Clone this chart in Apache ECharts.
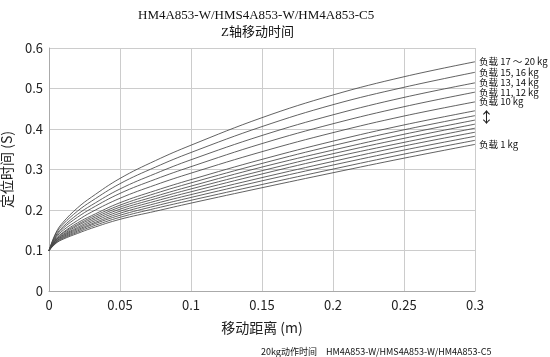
<!DOCTYPE html>
<html><head><meta charset="utf-8">
<script src="https://cdn.jsdelivr.net/npm/echarts@6/dist/echarts.min.js"></script>
<style>html,body{margin:0;padding:0;background:#fff}#c{width:550px;height:357px}</style>
</head><body><div id="c"></div>
<script>
var xs = [0, 0.005, 0.01, 0.02, 0.03, 0.05, 0.075, 0.1, 0.15, 0.2, 0.25, 0.3];
var load17_20 = [0.1, 0.145, 0.170, 0.205, 0.232, 0.278, 0.322, 0.360, 0.428, 0.484, 0.529, 0.566];
var load15_16 = [0.1, 0.142, 0.165, 0.197, 0.222, 0.265, 0.306, 0.342, 0.406, 0.460, 0.503, 0.540];
var load13_14 = [0.1, 0.138, 0.159, 0.189, 0.212, 0.252, 0.290, 0.324, 0.384, 0.435, 0.478, 0.514];
var load11_12 = [0.1, 0.135, 0.155, 0.182, 0.204, 0.241, 0.276, 0.307, 0.364, 0.413, 0.455, 0.491];
var load10 = [0.1, 0.132, 0.150, 0.174, 0.195, 0.229, 0.262, 0.291, 0.344, 0.391, 0.432, 0.467];
var load9 = [0.1, 0.129, 0.145, 0.168, 0.186, 0.218, 0.248, 0.275, 0.325, 0.370, 0.410, 0.445];
var load8 = [0.1, 0.127, 0.143, 0.164, 0.182, 0.212, 0.241, 0.267, 0.315, 0.359, 0.398, 0.433];
var load7 = [0.1, 0.126, 0.140, 0.161, 0.178, 0.207, 0.234, 0.259, 0.306, 0.348, 0.387, 0.422];
var load6 = [0.1, 0.125, 0.138, 0.157, 0.174, 0.202, 0.228, 0.252, 0.297, 0.339, 0.377, 0.412];
var load5 = [0.1, 0.123, 0.136, 0.154, 0.170, 0.197, 0.222, 0.245, 0.289, 0.330, 0.367, 0.402];
var load4 = [0.1, 0.122, 0.134, 0.151, 0.166, 0.192, 0.216, 0.238, 0.280, 0.320, 0.358, 0.392];
var load3 = [0.1, 0.121, 0.132, 0.148, 0.163, 0.187, 0.210, 0.231, 0.272, 0.311, 0.348, 0.382];
var load2 = [0.1, 0.119, 0.130, 0.145, 0.159, 0.182, 0.204, 0.224, 0.263, 0.301, 0.338, 0.372];
var load1 = [0.1, 0.118, 0.128, 0.142, 0.155, 0.177, 0.197, 0.217, 0.255, 0.292, 0.328, 0.362];

var seriesList = [
  {name: '负载 17 ～ 20 kg', data: load17_20, label: true},
  {name: '负载 15, 16 kg', data: load15_16, label: true},
  {name: '负载 13, 14 kg', data: load13_14, label: true},
  {name: '负载 11, 12 kg', data: load11_12, label: true},
  {name: '负载 10 kg', data: load10, label: true},
  {name: '负载 9 kg', data: load9, label: false},
  {name: '负载 8 kg', data: load8, label: false},
  {name: '负载 7 kg', data: load7, label: false},
  {name: '负载 6 kg', data: load6, label: false},
  {name: '负载 5 kg', data: load5, label: false},
  {name: '负载 4 kg', data: load4, label: false},
  {name: '负载 3 kg', data: load3, label: false},
  {name: '负载 2 kg', data: load2, label: false},
  {name: '负载 1 kg', data: load1, label: true}
];

var font = '"Noto Sans CJK JP", "Noto Sans CJK SC", sans-serif';
var serif = '"Liberation Serif", "Noto Sans CJK SC", serif';
var chart = echarts.init(document.getElementById('c'), null, {renderer: 'canvas'});
chart.setOption({
  animation: false,
  backgroundColor: '#fff',
  title: [{
    text: 'HM4A853-W/HMS4A853-W/HM4A853-C5',
    left: 133, top: 4,
    textStyle: {fontSize: 13, fontWeight: 'normal', color: '#111', fontFamily: serif}
  }, {
    text: 'Z轴移动时间',
    left: 216, top: 21,
    textStyle: {fontSize: 13, fontWeight: 'normal', color: '#111', fontFamily: serif}
  }, {
    text: '20kg动作时间　HM4A853-W/HMS4A853-W/HM4A853-C5',
    left: 256, top: 342,
    textStyle: {fontSize: 9, fontWeight: 'normal', color: '#111', fontFamily: font}
  }],
  grid: {left: 49, right: 75, top: 48, bottom: 66, containLabel: false, outerBoundsMode: 'none'},
  xAxis: {
    type: 'value', min: 0, max: 0.3, interval: 0.05,
    name: '移动距离 (m)', nameLocation: 'middle', nameGap: 30,
    nameTextStyle: {fontSize: 14, color: '#222', fontFamily: font},
    axisLine: {lineStyle: {color: '#aaa'}},
    axisTick: {show: false},
    splitLine: {show: true, lineStyle: {color: '#ccc'}},
    axisLabel: {fontSize: 13, color: '#222', margin: 8, fontFamily: font}
  },
  yAxis: {
    type: 'value', min: 0, max: 0.6, interval: 0.1,
    name: '定位时间 (S)', nameLocation: 'middle', nameGap: 33,
    nameTextStyle: {fontSize: 14, color: '#222', fontFamily: font},
    axisLine: {show: true, lineStyle: {color: '#aaa'}},
    axisTick: {show: false},
    splitLine: {show: true, lineStyle: {color: '#ccc'}},
    axisLabel: {fontSize: 13, color: '#222', margin: 6, fontFamily: font}
  },
  graphic: [{
    type: 'text', left: 479, top: 110,
    style: {text: '↕', fontSize: 15, fill: '#222', fontFamily: font}
  }],
  series: seriesList.map(function (s) {
    return {
      type: 'line', name: s.name, smooth: 0.4, symbol: 'none',
      data: xs.map(function (x, i) { return [x, s.data[i]]; }),
      lineStyle: {color: 'rgba(70,70,70,0.85)', width: 1},
      endLabel: {
        show: s.label, formatter: s.name, distance: 4,
        fontSize: 9.5, color: '#111', fontFamily: font
      }
    };
  })
});
</script></body></html>
